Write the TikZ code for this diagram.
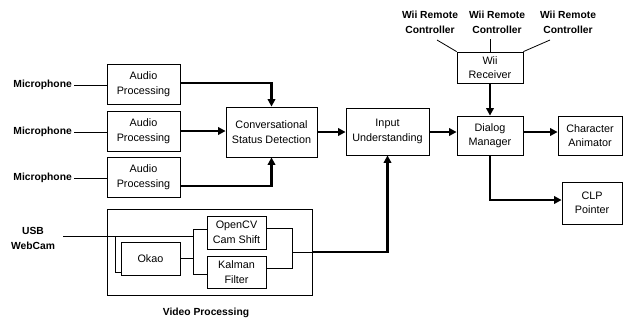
\documentclass[tikz,border=0pt]{standalone}
\usepackage{fontspec}
\setmainfont{Liberation Sans}
\usetikzlibrary{arrows.meta}
\begin{document}
\begin{tikzpicture}[x=1pt,y=-1pt,
  block/.style={draw,line width=0.8pt,inner sep=0pt,align=center,
    font=\fontsize{10.8}{14.5}\selectfont},
  srclabel/.style={inner sep=0pt,align=center,
    font=\bfseries\fontsize{10.3}{15}\selectfont},
  thin/.style={line width=0.8pt},
  flow/.style={line width=2.2pt,-{Triangle[length=7.5pt,width=7.5pt]}}]
\useasboundingbox (0,0) rectangle (623,325);

% processing blocks
\node[block,minimum width=73pt,minimum height=40pt] (ap1) at (143.5,84) {Audio\\Processing};
\node[block,minimum width=73pt,minimum height=40pt] (ap2) at (143.5,131) {Audio\\Processing};
\node[block,minimum width=73pt,minimum height=40pt] (ap3) at (143.5,177) {Audio\\Processing};
\node[block,minimum width=91pt,minimum height=50pt] (csd) at (271.5,132) {Conversational\\Status Detection};
\node[block,minimum width=83pt,minimum height=47pt] (iu) at (387.5,131.5) {Input\\Understanding};
\node[block,minimum width=66pt,minimum height=39pt] (dm) at (490,135.5) {Dialog\\Manager};
\node[block,minimum width=64pt,minimum height=39pt] (ca) at (590,135.5) {Character\\Animator};
\node[block,minimum width=66pt,minimum height=31pt] (wii) at (490,67.5) {Wii\\Receiver};
\node[block,minimum width=60pt,minimum height=42pt] (clp) at (592,203) {CLP\\Pointer};

% video processing group
\node[block,minimum width=205pt,minimum height=86pt] (video) at (209.5,252) {};
\node[block,minimum width=59pt,minimum height=33pt] (ocv) at (236.5,232.5) {OpenCV\\Cam Shift};
\node[block,minimum width=59pt,minimum height=32pt] (kal) at (236.5,272) {Kalman\\Filter};
\node[block,minimum width=59pt,minimum height=33pt] (okao) at (150.5,258.5) {Okao};
\node[srclabel] (vlabel) at (206,313) {Video Processing};

% input labels
\node[srclabel,anchor=east] (mic1) at (72,85) {Microphone};
\node[srclabel,anchor=east] (mic2) at (72,132) {Microphone};
\node[srclabel,anchor=east] (mic3) at (72,178) {Microphone};
\node[srclabel] (usb) at (33,238) {USB\\WebCam};
\node[srclabel] (wr1) at (430,22) {Wii Remote\\Controller};
\node[srclabel] (wr2) at (497,22) {Wii Remote\\Controller};
\node[srclabel] (wr3) at (568,22) {Wii Remote\\Controller};

% thin links
\draw[thin] (mic1.east) ++(2,0) -- (ap1.west |- mic1.east);
\draw[thin] (mic2.east) ++(2,0) -- (ap2.west |- mic2.east);
\draw[thin] (mic3.east) ++(2,0) -- (ap3.west |- mic3.east);

\coordinate (w1) at (437,40);
\coordinate (w2) at (490,39);
\coordinate (w3) at (550,40);
\draw[thin] (w1) -- (wii.north west);
\draw[thin] (w2) -- (wii.north);
\draw[thin] (w3) -- (wii.north east);

% inside the video block
\coordinate (cam) at (63,236);
\coordinate (split) at (193,236);
\coordinate (tap) at (115,236);
\coordinate (ktop) at (193,229);
\coordinate (kbot) at (193,274);
\coordinate (mtop) at (292,228);
\coordinate (mbot) at (292,268);
\coordinate (mout) at (292,252);
\draw[thin] (cam) -- (split);
\draw[thin] (tap) |- ([yshift=-13.5pt]okao.west);
\draw[thin] (okao.east) -- (okao.east -| split);
\draw[thin] (ktop) -- (kbot);
\draw[thin] (ktop) -- (ocv.west |- ktop);
\draw[thin] (kbot) -- (kal.west |- kbot);
\draw[thin] (ocv.east |- mtop) -- (mtop) -- (mbot) -- (kal.east |- mbot);
\draw[thin] (mout) -- (video.east);

% main data flow
\draw[flow] (ap1.east |- 0,83) -| (csd.north);
\draw[flow] (ap2.east) -- (csd.west |- ap2.east);
\draw[flow] (ap3.east |- 0,186) -| (csd.south);
\draw[flow] (csd.east) -- (iu.west |- csd.east);
\draw[flow] (video.east) -| (iu.south);
\draw[flow] (iu.east |- 0,132) -- (dm.west |- 0,132);
\draw[flow] (wii.south) -- (dm.north);
\draw[flow] (dm.east |- 0,132) -- (ca.west |- 0,132);
\draw[flow] (dm.south) |- (clp.west |- 0,200);
\end{tikzpicture}
\end{document}
